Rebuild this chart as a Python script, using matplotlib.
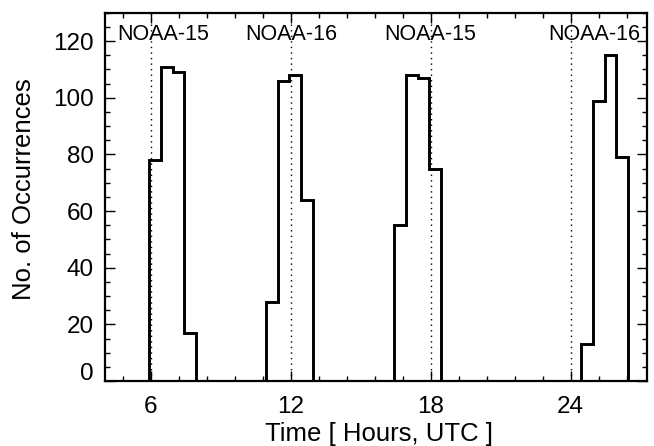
import matplotlib
matplotlib.use("Agg")
import matplotlib.pyplot as plt
import matplotlib.transforms as mtransforms
import numpy as np

plt.rcParams['font.family'] = ['Liberation Sans', 'DejaVu Sans']

# Histogram data: 0.5-hour bins starting at 5.95 UTC
bin_start = 5.95
bin_width = 0.5
counts = [78, 111, 109, 17,
          0, 0, 0, 0, 0, 0,
          28, 106, 108, 64,
          0, 0, 0, 0, 0, 0, 0,
          55, 108, 107, 75,
          0, 0, 0, 0, 0, 0, 0, 0, 0, 0, 0, 0,
          13, 99, 115, 79]

pass_times = [6, 12, 18, 24]
pass_labels = ["NOAA-15", "NOAA-16", "NOAA-15", "NOAA-16"]
label_x = [6.56, 12.03, 18.0, 25.03]

xticks = [6, 12, 18, 24]
yticks = [0, 20, 40, 60, 80, 100, 120]

edges = bin_start + bin_width * np.arange(len(counts) + 1)

fig = plt.figure(figsize=(6.54, 4.46), dpi=100)
ax = fig.add_axes([105/654, 1 - 381/446, (647-105)/654, (381-12.7)/446])

ax.stairs(counts, edges, baseline=0, fill=False, color='black', linewidth=2.1)

for t in pass_times:
    ax.axvline(t, color='black', linewidth=1.0, linestyle=(0, (1, 3)))

for x, lab in zip(label_x, pass_labels):
    ax.text(x, 122.2, lab, ha='center', va='center', fontsize=15.5)

ax.set_xlim(4.05, 27.27)
ax.set_ylim(0, 130)
ax.set_xticks(xticks)
ax.set_xticks(np.arange(4.8, 27.3, 1.2), minor=True)
ax.set_yticks(yticks)
ax.set_yticks(np.arange(0, 131, 5), minor=True)

ax.tick_params(which='both', direction='in', top=True, right=True, width=1.0, labelsize=17.5)
ax.tick_params(which='major', length=7.2)
ax.tick_params(which='minor', length=3.6)
ax.tick_params(axis='x', pad=11)
ax.tick_params(axis='y', pad=8)

for sp in ax.spines.values():
    sp.set_linewidth(1.6)

ax.set_xlabel("Time [ Hours, UTC ]", fontsize=18.5)
ax.set_ylabel("No. of Occurrences", fontsize=18.5)
ax.xaxis.set_label_coords(0.505, -0.112)
ax.yaxis.set_label_coords(-0.128, 0.52)

fig.canvas.draw()
# IDL-style: the "0" label sits slightly above the axis corner
lbl0 = ax.get_yticklabels()[0]
lbl0.set_transform(lbl0.get_transform() + mtransforms.ScaledTranslation(0, 9/100, fig.dpi_scale_trans))

fig.savefig("out.png", dpi=100)
